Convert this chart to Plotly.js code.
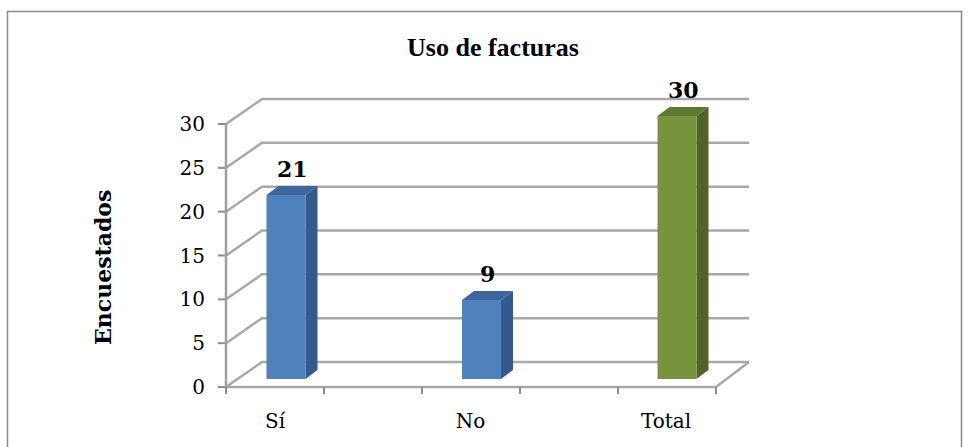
<!DOCTYPE html>
<html>
<head>
<meta charset="utf-8">
<script src="https://cdn.plot.ly/plotly-3.0.1.min.js"></script>
<style>html,body{margin:0;padding:0;background:#fff;}#chart{width:969px;height:447px;}</style>
</head>
<body>
<div id="chart"></div>
<script>
// ---- data ----
const categories = ['Sí', 'No', 'Total'];
const values = [21, 9, 30];
const yTicks = [0, 5, 10, 15, 20, 25, 30];
const titleText = 'Uso de facturas';
const yTitleText = 'Encuestados';

// ---- styles ----
const frontColors = ['#4F81BD', '#4F81BD', '#77933C'];
const sideColors  = ['#34598A', '#34598A', '#4F6228'];
const topColors   = ['#3D679C', '#3D679C', '#5E7830'];
const gridColor = '#A8A8A8';

// ---- pixel geometry of the pseudo-3D frame ----
const W = 969, H = 447;
const PL = 206, PR = 756, PT = 96, PB = 396;   // plot area in px
const CX0 = 286, CSTEP = 195.5;                // bar centres
const YB0 = 379, YF0 = 387, PXU = 8.767;       // bar plane zero, front plane zero, px per unit
const AX = 226;                                // front vertical axis px
const DX = 36, DY = 25;                        // wall depth offset px
const FLOOR_R = 716;                           // front floor right end px
const BDX = 12, BDY = 9;                       // bar depth offset px
const BARW = 39 / CSTEP;
const LABEL_SHIFT = 11;                        // category label shift px

const xd = px => (px - CX0) / CSTEP;           // px -> x data
const dyU = DY / PXU;
const bdxU = BDX / CSTEP, bdyU = BDY / PXU;
const px2paperX = px => (px - PL) / (PR - PL);
const px2paperY = py => (PB - py) / (PB - PT);

const shapes = [];
// frame border
shapes.push({type:'rect', xref:'paper', yref:'paper', layer:'below',
  x0:px2paperX(7.5), x1:px2paperX(961.5), y0:px2paperY(470), y1:px2paperY(11.5),
  line:{color:'#8A8A8A', width:1.5}});

// gridlines (front diagonal + back wall)
const xa = xd(AX), xb = xd(AX + DX), xr = xd(749);
yTicks.forEach(v => {
  shapes.push({type:'path', xref:'x', yref:'y2', layer:'below',
    path:`M ${xa} ${v} L ${xb} ${v + dyU} L ${xr} ${v + dyU}`,
    line:{color:gridColor, width:2.5}});
  // left tick marks
  shapes.push({type:'line', xref:'x', yref:'y2', layer:'below',
    x0:xd(AX - 8), x1:xa, y0:v, y1:v, line:{color:'#8C8C8C', width:2}});
});
// floor front edge + right edge
const yMin = yTicks[0], yMax = yTicks[yTicks.length - 1];
shapes.push({type:'path', xref:'x', yref:'y2', layer:'below',
  path:`M ${xa} ${yMin} L ${xd(FLOOR_R)} ${yMin} L ${xr} ${yMin + dyU}`,
  line:{color:gridColor, width:2.5}});
// front vertical axis line
shapes.push({type:'line', xref:'x', yref:'y2', layer:'below',
  x0:xa, x1:xa, y0:yMin, y1:yMax, line:{color:'#A0A0A0', width:2.5}});
// x tick marks under the floor
const nTicks = categories.length * 2;
for (let j = 0; j < nTicks; j++) {
  const tx = xd(AX + j * (FLOOR_R - AX) / (nTicks - 1));
  shapes.push({type:'line', xref:'x', yref:'y2', layer:'below',
    x0:tx, x1:tx, y0:yMin, y1:yMin - 7 / PXU, line:{color:'#8C8C8C', width:2}});
}

// bar side and top faces, derived from values
const xIdx = categories.map((c, i) => i);
values.forEach((v, i) => {
  const l = xIdx[i] - BARW / 2, r = xIdx[i] + BARW / 2;
  shapes.push({type:'path', xref:'x', yref:'y', layer:'below',
    path:`M ${r} 0 L ${r + bdxU} ${bdyU} L ${r + bdxU} ${v + bdyU} L ${r} ${v} Z`,
    fillcolor:sideColors[i], line:{width:0}});
  shapes.push({type:'path', xref:'x', yref:'y', layer:'below',
    path:`M ${l} ${v} L ${l + bdxU} ${v + bdyU} L ${r + bdxU} ${v + bdyU} L ${r} ${v} Z`,
    fillcolor:topColors[i], line:{width:0}});
});

const data = [{
  type:'bar', x:xIdx, y:values, width:BARW,
  marker:{color:frontColors, line:{width:0}},
  hoverinfo:'skip', xaxis:'x', yaxis:'y'
}];

const annotations = values.map((v, i) => ({
  xref:'x', yref:'y', x:xIdx[i], y:v, xshift:BDX / 2, yshift:BDY + 2,
  xanchor:'center', yanchor:'bottom', showarrow:false,
  text:'<b>' + v + '</b>',
  font:{family:'DejaVu Serif', size:22, color:'#000'}
}));
annotations.push({
  xref:'paper', yref:'paper', x:px2paperX(103), y:px2paperY(268),
  xanchor:'center', yanchor:'middle', showarrow:false, textangle:-90,
  text:'<b>' + yTitleText + '</b>',
  font:{family:'DejaVu Serif', size:22, color:'#000'}
});

const layout = {
  width:W, height:H,
  margin:{l:PL, r:W - PR, t:PT, b:H - PB, pad:0},
  paper_bgcolor:'#fff', plot_bgcolor:'rgba(0,0,0,0)',
  showlegend:false,
  title:{text:'<b>' + titleText + '</b>', xref:'container', yref:'container',
    x:493 / W, y:1 - 47 / H, xanchor:'center', yanchor:'middle',
    font:{family:'Liberation Serif', size:26, color:'#000'}},
  xaxis:{type:'linear', range:[xd(PL), xd(PR)], showgrid:false, zeroline:false,
    showline:false, showticklabels:false, ticks:'', fixedrange:true},
  xaxis2:{type:'linear', overlaying:'x', anchor:'y', side:'bottom',
    range:[(PL - (CX0 - LABEL_SHIFT)) / CSTEP, (PR - (CX0 - LABEL_SHIFT)) / CSTEP],
    tickvals:xIdx, ticktext:categories, ticks:'', showgrid:false, zeroline:false,
    showline:false, ticklabelstandoff:11,
    tickfont:{family:'DejaVu Serif', size:20, color:'#000'}},
  yaxis:{range:[(YB0 - PB) / PXU, (YB0 - PT) / PXU], showgrid:false, zeroline:false,
    showline:false, showticklabels:false, ticks:''},
  yaxis2:{overlaying:'y', anchor:'x', side:'left',
    range:[(YF0 - PB) / PXU, (YF0 - PT) / PXU], tickvals:yTicks,
    ticks:'', showgrid:false, zeroline:false, showline:false,
    tickfont:{family:'DejaVu Serif', size:20, color:'#000'}},
  shapes:shapes,
  annotations:annotations
};

// invisible trace to activate the overlay axes
data.push({type:'scatter', x:[xIdx[0]], y:[values[0]], xaxis:'x2', yaxis:'y2',
  mode:'markers', marker:{opacity:0}, hoverinfo:'skip'});

Plotly.newPlot('chart', data, layout, {displayModeBar:false, staticPlot:true});
</script>
</body>
</html>
